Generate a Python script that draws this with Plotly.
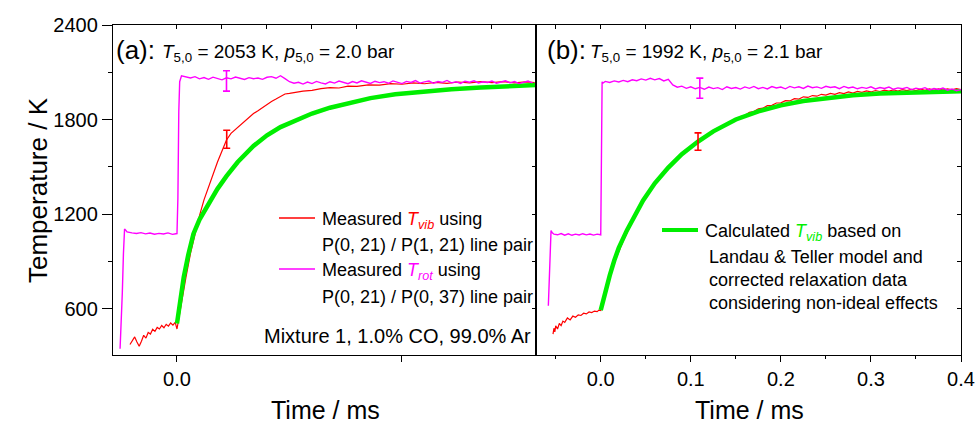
import plotly.graph_objects as go

# ---------------- DATA ----------------
# Panel (a): T5,0 = 2053 K
a_trot_t = [-0.0253, -0.0248, -0.0243, -0.0238, -0.0233, -0.0228, -0.0222, -0.020, -0.018, -0.016,
            -0.014, -0.012, -0.010, -0.008, -0.006, -0.004, -0.002, 0.0, 0.0004, 0.0008, 0.0012] + \
           [round(0.002 * i, 3) for i in range(1, 80)]
a_trot_T = [345, 480, 700, 950, 1105, 1098, 1086, 1080, 1076, 1082,
            1074, 1079, 1072, 1077, 1073, 1080, 1071, 1076, 1300, 1850, 2040,
            2078, 2070, 2064, 2072, 2058, 2066, 2055, 2069, 2060, 2052,
            2065, 2058, 2070, 2061, 2054, 2066, 2059, 2063, 2055, 2068,
            2072, 2062, 2078, 2060, 2040, 2030, 2036, 2025, 2038, 2028,
            2042, 2033, 2026, 2040, 2031, 2044, 2035, 2027, 2041, 2032,
            2046, 2036, 2029, 2043, 2034, 2040, 2030, 2045, 2036, 2028,
            2042, 2035, 2047, 2031, 2039, 2044, 2030, 2041, 2036, 2048,
            2033, 2040, 2029, 2043, 2037, 2046, 2032, 2040, 2035, 2044,
            2030, 2039, 2046, 2033, 2041, 2028, 2038, 2044, 2032]

a_tvib_t = [-0.0209, -0.0198, -0.0188, -0.0178, -0.0168, -0.0158, -0.0148, -0.0138, -0.0128, -0.0118,
            -0.0108, -0.0098, -0.0088, -0.0078, -0.0068, -0.0058, -0.0048, -0.0038, -0.0028, -0.0018,
            -0.0008, 0.0, 0.0008, 0.002, 0.004, 0.006, 0.008, 0.010, 0.012, 0.014,
            0.016, 0.018, 0.020, 0.022, 0.024, 0.026, 0.028, 0.030, 0.032, 0.034,
            0.036, 0.038, 0.040, 0.042, 0.044, 0.046, 0.048, 0.050, 0.053, 0.056,
            0.060, 0.064, 0.068, 0.072, 0.076, 0.080, 0.085, 0.090, 0.095, 0.100,
            0.105, 0.110, 0.115, 0.120, 0.125, 0.130, 0.135, 0.140, 0.145, 0.150,
            0.155, 0.159]
a_tvib_T = [372, 395, 420, 388, 360, 392, 430, 412, 448, 438,
            468, 455, 480, 470, 492, 478, 500, 488, 508, 495,
            512, 470, 540, 640, 800, 950, 1080, 1190, 1290, 1375,
            1450, 1530, 1600, 1670, 1712, 1738, 1765, 1790, 1815, 1838,
            1855, 1876, 1892, 1915, 1930, 1945, 1962, 1966, 1975, 1980,
            1985, 1996, 2002, 2000, 2012, 2010, 2020, 2018, 2028, 2024,
            2033, 2027, 2036, 2030, 2038, 2032, 2040, 2034, 2041, 2033,
            2039, 2035]

a_calc_t = [0.0, 0.001, 0.002, 0.003, 0.005, 0.0073, 0.010, 0.0147, 0.018, 0.022,
            0.027, 0.034, 0.040, 0.046, 0.052, 0.060, 0.068, 0.076, 0.086, 0.097,
            0.110, 0.122, 0.135, 0.148, 0.160]
a_calc_T = [505, 620, 720, 800, 940, 1074, 1165, 1286, 1360, 1440,
            1530, 1632, 1700, 1752, 1790, 1838, 1875, 1905, 1936, 1960,
            1980, 1992, 2003, 2012, 2020]

# Panel (b): T5,0 = 1992 K
b_trot_t = [-0.0582, -0.0576, -0.0570, -0.0562, -0.0552, -0.0540, -0.052, -0.048, -0.044, -0.040,
            -0.036, -0.032, -0.028, -0.024, -0.020, -0.016, -0.012, -0.008, -0.004, 0.0,
            0.0008, 0.0015, 0.002] + [round(0.005 * i, 3) for i in range(1, 81)]
b_trot_T = [618, 700, 850, 1000, 1095, 1082, 1072, 1068, 1076, 1066,
            1074, 1065, 1072, 1067, 1075, 1068, 1073, 1066, 1072, 1068,
            1500, 2040, 2030,
            2042, 2035, 2045, 2038, 2048, 2040, 2052, 2046, 2058, 2050,
            2062, 2052, 2060, 2045, 2055, 2020, 2005, 2012, 1998, 2008,
            1995, 2004, 1992, 2006, 1996, 2002, 1990, 2008, 1997, 2003,
            1993, 2007, 1998, 2010, 1996, 2004, 1994, 2009, 2000, 2006,
            1995, 2010, 2001, 2008, 1997, 2012, 2002, 2007, 1998, 2011,
            2003, 2008, 1996, 2010, 2000, 2006, 1995, 2004, 1998, 2008,
            1994, 2003, 1997, 2006, 1992, 2001, 1995, 2004, 1990, 1999,
            1993, 2002, 1988, 1997, 1991, 2000, 1986, 1994, 1983, 1990]

b_tvib_t = [-0.0530, -0.0520, -0.0510, -0.050, -0.048, -0.046, -0.044, -0.042, -0.040, -0.037,
            -0.034, -0.031, -0.028, -0.025, -0.022, -0.019, -0.016, -0.013, -0.010, -0.007,
            -0.004, -0.002, 0.0, 0.002, 0.005, 0.008, 0.012, 0.016, 0.020] + \
           [round(0.005 * i, 3) for i in range(5, 81)]
b_tvib_T = [438, 475, 452, 490, 470, 505, 492, 520, 512, 540,
            528, 552, 545, 560, 556, 570, 566, 578, 574, 584,
            580, 590, 587, 640, 690, 760, 840, 905, 965,
            1030, 1090, 1150, 1205, 1262, 1300, 1350, 1385, 1428, 1455,
            1495, 1520, 1556, 1575, 1610, 1625, 1652, 1668, 1690, 1705,
            1728, 1738, 1760, 1770, 1792, 1800, 1818, 1825, 1845, 1850,
            1868, 1872, 1888, 1890, 1905, 1906, 1920, 1918, 1932, 1930,
            1944, 1940, 1952, 1948, 1960, 1955, 1966, 1960, 1970, 1964,
            1975, 1968, 1978, 1972, 1982, 1975, 1984, 1978, 1986, 1980,
            1988, 1981, 1990, 1983, 1991, 1984, 1993, 1985, 1994, 1986,
            1995, 1987, 1995, 1988, 1996, 1990]

b_calc_t = [0.0, 0.003, 0.006, 0.010, 0.015, 0.020, 0.029, 0.038, 0.047, 0.060,
            0.075, 0.090, 0.108, 0.125, 0.150, 0.175, 0.200, 0.225, 0.254, 0.280,
            0.310, 0.340, 0.370, 0.400]
b_calc_T = [590, 660, 725, 810, 905, 985, 1096, 1195, 1286, 1395,
            1495, 1580, 1660, 1725, 1800, 1852, 1890, 1918, 1940, 1954,
            1965, 1972, 1977, 1980]

# Error bars: time, temperature, half-width
a_err_vib = ([0.0221], [1675], [57])
a_err_rot = ([0.0220], [2045], [65])
b_err_vib = ([0.108], [1660], [55])
b_err_rot = ([0.110], [1999], [64])

# Axis settings
a_xrange = [-0.02844, 0.15956]
b_xrange = [-0.0719, 0.4]
y_range = [305, 2400]
y_major = [600, 1200, 1800, 2400]
y_minor_inside = [600, 900, 1200, 1500, 1800, 2100]
a_top_ticks = [0, 0.02, 0.04, 0.06, 0.08, 0.10, 0.12, 0.14]
b_top_ticks = [-0.05, 0, 0.05, 0.10, 0.15, 0.20, 0.25, 0.30, 0.35]
b_major_ticks = [0, 0.1, 0.2, 0.3, 0.4]
b_major_labels = ["0.0", "0.1", "0.2", "0.3", "0.4"]

# ---------------- FIGURE ----------------
W, H = 975, 426
RED, MAG, GRN = "#ff0000", "#ff00ff", "#00ee00"
FONT = "Liberation Sans, Arial, sans-serif"


def fx(p):
    return p / W


def fy(p):
    return 1 - p / H


fig = go.Figure()


def line_trace(t, T, color, width, xa, ya):
    fig.add_trace(go.Scatter(x=t, y=T, mode="lines", line=dict(color=color, width=width),
                             xaxis=xa, yaxis=ya, showlegend=False, hoverinfo="skip"))


def err_trace(e, color, xa, ya):
    fig.add_trace(go.Scatter(x=e[0], y=e[1], mode="markers", marker=dict(size=1, color=color, opacity=0),
                             error_y=dict(type="data", array=e[2], color=color, thickness=1.6, width=3.5),
                             xaxis=xa, yaxis=ya, showlegend=False, hoverinfo="skip"))


line_trace(a_tvib_t, a_tvib_T, RED, 1.2, "x", "y")
line_trace(a_calc_t, a_calc_T, GRN, 4.5, "x", "y")
line_trace(a_trot_t, a_trot_T, MAG, 1.4, "x", "y")
err_trace(a_err_vib, RED, "x", "y")
err_trace(a_err_rot, MAG, "x", "y")

line_trace(b_tvib_t, b_tvib_T, RED, 1.2, "x2", "y2")
line_trace(b_calc_t, b_calc_T, GRN, 4.5, "x2", "y2")
line_trace(b_trot_t, b_trot_T, MAG, 1.4, "x2", "y2")
err_trace(b_err_vib, RED, "x2", "y2")
err_trace(b_err_rot, MAG, "x2", "y2")

# dummy traces so overlay axes are drawn
for xa, ya in [("x3", "y"), ("x", "y3"), ("x4", "y2"), ("x2", "y4")]:
    fig.add_trace(go.Scatter(x=[None], y=[None], xaxis=xa, yaxis=ya, showlegend=False, hoverinfo="skip"))

dom_a = [fx(113), fx(536)]
dom_b = [fx(536), fx(961)]
dom_y = [fy(355), fy(25)]

ax_common = dict(showline=True, linecolor="black", linewidth=1.3, zeroline=False, showgrid=False,
                 automargin=False, tickcolor="black", tickwidth=1.3,
                 tickfont=dict(family=FONT, size=20, color="black"))

fig.update_layout(
    width=W, height=H, margin=dict(l=0, r=0, t=0, b=0, autoexpand=False),
    paper_bgcolor="white", plot_bgcolor="white", showlegend=False,
    font=dict(family=FONT, color="black"),
    xaxis=dict(domain=dom_a, range=a_xrange, anchor="y", tickmode="array", tickvals=[0, 0.1],
               ticktext=["0.0", ""], ticks="outside", ticklen=6, **ax_common),
    yaxis=dict(domain=dom_y, range=y_range, anchor="x", tickmode="array", tickvals=y_major,
               ticks="outside", ticklen=10,
               minor=dict(tickvals=[900, 1500, 2100], ticks="outside", ticklen=4, tickcolor="black"),
               **ax_common),
    xaxis2=dict(domain=dom_b, range=b_xrange, anchor="y2", tickmode="array", tickvals=b_major_ticks,
                ticktext=b_major_labels, ticks="outside", ticklen=6,
                minor=dict(tickvals=[-0.05, 0.05, 0.15, 0.25, 0.35], ticks="outside", ticklen=3,
                           tickcolor="black"),
                **ax_common),
    yaxis2=dict(domain=dom_y, range=y_range, anchor="x2", ticks="", showticklabels=False,
                showline=True, linecolor="black", linewidth=1.3, zeroline=False, showgrid=False,
                automargin=False),
    xaxis3=dict(overlaying="x", anchor="y", side="top", range=a_xrange, tickmode="array",
                tickvals=a_top_ticks, ticks="inside", ticklen=4, showticklabels=False, **ax_common),
    yaxis3=dict(overlaying="y", anchor="x", side="right", range=y_range, tickmode="array",
                tickvals=y_minor_inside, ticks="inside", ticklen=4, showticklabels=False, **ax_common),
    xaxis4=dict(overlaying="x2", anchor="y2", side="top", range=b_xrange, tickmode="array",
                tickvals=b_top_ticks, ticks="inside", ticklen=4, showticklabels=False, **ax_common),
    yaxis4=dict(overlaying="y2", anchor="x2", side="right", range=y_range, tickmode="array",
                tickvals=y_minor_inside, ticks="inside", ticklen=4, showticklabels=False, **ax_common),
)

ann = []


def add_text(text, x, y, size, xanchor="left", yanchor="middle", angle=0, color="black"):
    ann.append(dict(text=text, x=fx(x), y=fy(y), xref="paper", yref="paper", xanchor=xanchor,
                    yanchor=yanchor, showarrow=False, textangle=angle,
                    font=dict(family=FONT, size=size, color=color)))


add_text("(a):", 114, 50, 26)
add_text("<i>T</i><sub>5,0</sub> = 2053 K, <i>p</i><sub>5,0</sub> = 2.0 bar", 160, 53, 19)
add_text("(b):", 545, 50, 26)
add_text("<i>T</i><sub>5,0</sub> = 1992 K, <i>p</i><sub>5,0</sub> = 2.1 bar", 588, 53, 19)

add_text("Measured <span style='color:#ff0000'><i>T<sub>vib</sub></i></span> using", 320, 220, 18)
add_text("P(0, 21) / P(1, 21) line pair", 320, 245, 18)
add_text("Measured <span style='color:#ff00ff'><i>T<sub>rot</sub></i></span> using", 320, 271, 18)
add_text("P(0, 21) / P(0, 37) line pair", 320, 297, 18)
add_text("Mixture 1, 1.0% CO, 99.0% Ar", 533, 336, 20, xanchor="right")

add_text("Calculated <span style='color:#00ee00'><i>T<sub>vib</sub></i></span> based on", 703, 232, 18)
add_text("Landau &amp; Teller model and", 707, 257, 18)
add_text("corrected relaxation data", 707, 280, 18)
add_text("considering non-ideal effects", 707, 303, 18)

add_text("Temperature / K", 38, 190, 26, xanchor="center", angle=-90)
add_text("Time / ms", 325, 410, 25, xanchor="center")
add_text("Time / ms", 749, 410, 25, xanchor="center")

fig.update_layout(annotations=ann)

shapes = [
    dict(type="line", xref="paper", yref="paper", x0=fx(279), x1=fx(315), y0=fy(218), y1=fy(218),
         line=dict(color=RED, width=1.5)),
    dict(type="line", xref="paper", yref="paper", x0=fx(279), x1=fx(315), y0=fy(269), y1=fy(269),
         line=dict(color=MAG, width=1.5)),
    dict(type="line", xref="paper", yref="paper", x0=fx(662), x1=fx(698), y0=fy(230), y1=fy(230),
         line=dict(color=GRN, width=4)),
]
fig.update_layout(shapes=shapes)

fig.write_html("out.html")
